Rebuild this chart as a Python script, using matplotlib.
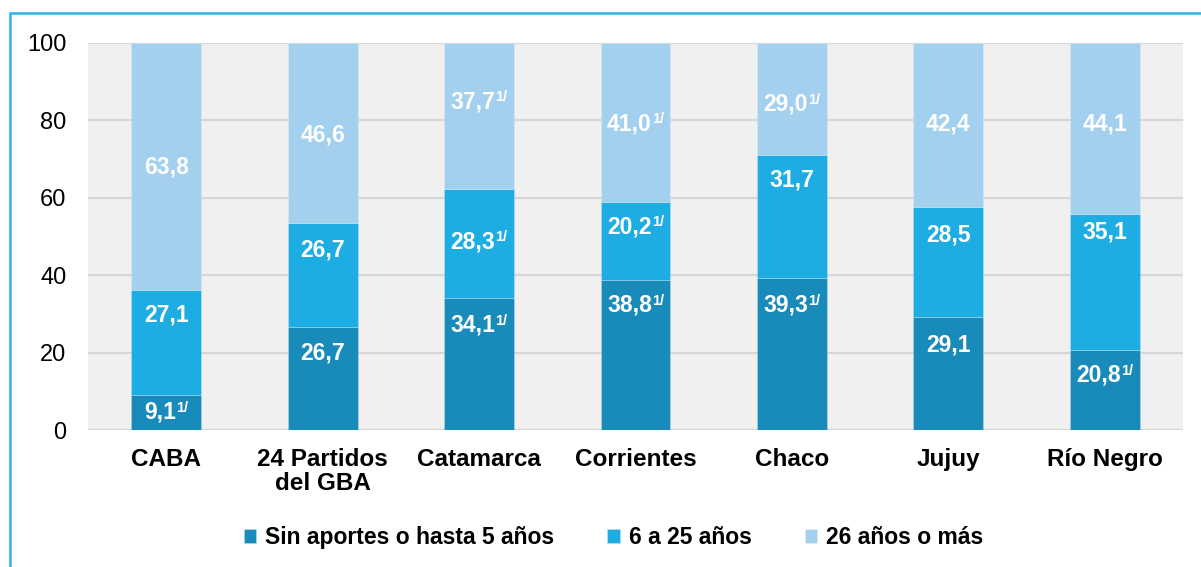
import numpy as np
import matplotlib.pyplot as plt
from matplotlib.patches import Rectangle
from matplotlib.offsetbox import TextArea, HPacker, AnnotationBbox

plt.rcParams['font.family'] = ['Liberation Sans', 'DejaVu Sans']

# data
categories = ['CABA', '24 Partidos\ndel GBA', 'Catamarca', 'Corrientes', 'Chaco', 'Jujuy', 'Río Negro']
series_names = ['Sin aportes o hasta 5 años', '6 a 25 años', '26 años o más']
sin_aportes = [9.1, 26.7, 34.1, 38.8, 39.3, 29.1, 20.8]
de_6_a_25 = [27.1, 26.7, 28.3, 20.2, 31.7, 28.5, 35.1]
mas_26 = [63.8, 46.6, 37.7, 41.0, 29.0, 42.4, 44.1]
# which values carry the "1/" note
nota_sin = [True, False, True, True, True, False, True]
nota_6 = [False, False, True, True, False, False, False]
nota_26 = [False, False, True, True, True, False, False]

# label heights as placed in the original
lab_sin = [4.6, 19.9, 27.1, 32.3, 32.3, 22.0, 14.2]
lab_6 = [29.7, 46.5, 48.6, 52.5, 64.6, 50.4, 51.2]
lab_26 = [68.0, 76.2, 84.8, 79.1, 84.2, 79.1, 79.1]

colors = ['#198bba', '#1eade2', '#a3d0ee']

fig = plt.figure(figsize=(12.01, 5.67), dpi=100)
ax = fig.add_axes([0.0733, 0.2416, 0.9117, 0.6826])
ax.set_facecolor('#f0f0f0')

x = np.arange(len(categories))
w = 0.447
bottoms = np.zeros(len(categories))
for vals, c, name in zip([sin_aportes, de_6_a_25, mas_26], colors, series_names):
    ax.bar(x, vals, w, bottom=bottoms, color=c, label=name, zorder=3,
           edgecolor='#ffffff40', linewidth=0.6)
    bottoms += np.array(vals)


def etiqueta(xi, yi, val, nota):
    txt = f'{val:.1f}'.replace('.', ',')
    parts = [TextArea(txt, textprops=dict(color='white', fontsize=16.5, fontweight='bold'))]
    if nota:
        parts.append(TextArea('1/', textprops=dict(color='white', fontsize=10.5, fontweight='bold')))
    box = HPacker(children=parts, align='top', pad=0, sep=0)
    ab = AnnotationBbox(box, (xi, yi), frameon=False, box_alignment=(0.5, 0.5), zorder=5)
    ax.add_artist(ab)


for vals, labs, notas in [(sin_aportes, lab_sin, nota_sin), (de_6_a_25, lab_6, nota_6), (mas_26, lab_26, nota_26)]:
    for i in range(len(categories)):
        etiqueta(x[i], labs[i], vals[i], notas[i])

ax.set_ylim(0, 100)
ax.set_xlim(-0.5, len(categories) - 0.5)
ax.set_yticks(np.arange(0, 101, 20))
ax.yaxis.grid(True, color='#d6d6d6', linewidth=1.5, zorder=0)
ax.set_axisbelow(True)
for s in ax.spines.values():
    s.set_visible(False)
ax.tick_params(axis='y', length=0, labelsize=17, pad=15.5)
ax.tick_params(axis='x', length=0, labelsize=17.5, pad=13)
ax.set_xticks(x)
ax.set_xticklabels(categories, fontweight='bold', linespacing=1.05)

leg = fig.legend(loc='center', bbox_to_anchor=(0.511, 0.052), ncol=3, frameon=False,
                 prop=dict(size=16.5, weight='bold'), handlelength=0.55, handleheight=0.55,
                 handletextpad=0.4, columnspacing=2.3)

# outer frame
fig.patches.append(Rectangle((10 / 1201, -0.2), 1.2, 1 - 13 / 567 + 0.2, transform=fig.transFigure,
                             fill=False, edgecolor='#2bb5e8', linewidth=1.8))

fig.savefig('out.png', dpi=100)
